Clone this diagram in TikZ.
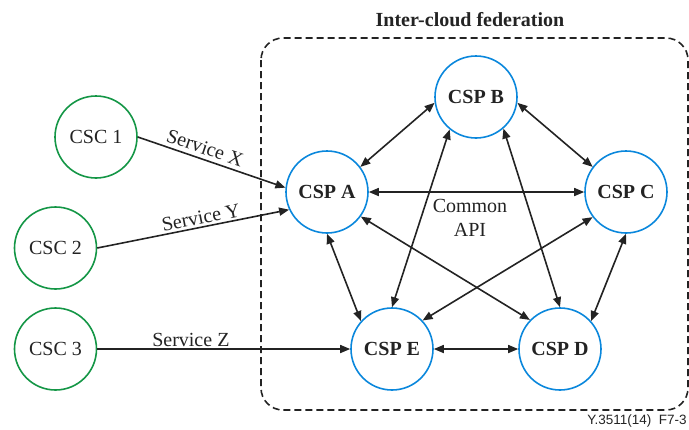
\documentclass[tikz,border=0pt]{standalone}
\usepackage{fontspec}
\setmainfont{Liberation Serif}
\newfontfamily\labelsans{Liberation Sans}
\usetikzlibrary{arrows.meta}
\definecolor{cscgreen}{RGB}{20,150,70}
\definecolor{cspblue}{RGB}{10,135,220}
\definecolor{ink}{RGB}{35,35,35}
\begin{document}
\begin{tikzpicture}[x=1pt,y=-1pt,
  csc/.style={circle,draw=cscgreen,line width=1.6pt,minimum size=82pt,inner sep=0pt,text=ink,font=\fontsize{20}{24}\selectfont},
  csp/.style={circle,draw=cspblue,line width=1.6pt,minimum size=82pt,inner sep=0pt,text=ink,font=\fontsize{20}{24}\selectfont\bfseries},
  link/.style={draw=ink,line width=1.6pt,{Triangle[length=10pt,width=8pt]}-{Triangle[length=10pt,width=8pt]}},
  svc/.style={draw=ink,line width=1.6pt,-{Triangle[length=10pt,width=8pt]}},
  lbl/.style={text=ink,font=\fontsize{20}{24}\selectfont,inner sep=2pt}
]
\useasboundingbox (0,0) rectangle (689,429);
% federation frame
\draw[ink,line width=1.6pt,dash pattern=on 7pt off 4pt,rounded corners=22pt] (261,38) rectangle (688,410);
\node[font=\fontsize{20}{24}\selectfont\bfseries,text=ink] (title) at (470,20) {Inter-cloud federation};
% nodes
\node[csc] (c1) at (96,137) {CSC 1};
\node[csc] (c2) at (55.5,248) {CSC 2};
\node[csc] (c3) at (55.5,349) {CSC 3};
\node[csp] (A) at (327,192) {CSP A};
\node[csp] (B) at (476,97) {CSP B};
\node[csp] (C) at (626,192) {CSP C};
\node[csp] (E) at (392,349) {CSP E};
\node[csp] (D) at (560,349) {CSP D};
\node[lbl,align=center] (api) at (470,218) {Common\\API};
% service arrows
\draw[svc] (c1.east) -- node[lbl,pos=0.43,above=2pt,sloped] {Service X} (A.174);
\draw[svc] (c2.east) -- node[lbl,pos=0.55,above,sloped] {Service Y} (A.205);
\draw[svc] (c3.east) -- node[lbl,pos=0.37,above] {Service Z} (E.west);
% federation links
\draw[link] (A.37) -- (B.188);
\draw[link] (B.352) -- (C.143);
\draw[link] (A.east) -- (C.west);
\draw[link] (A.270) -- (E.138);
\draw[link] (C.270) -- (D.42);
\draw[link] (E.east) -- (D.west);
\draw[link] (B.231) -- (E.north);
\draw[link] (B.311) -- (D.north);
\draw[link] (A.324) -- (D.136);
\draw[link] (C.217) -- (E.43);
\node[font=\labelsans\fontsize{13.5}{16}\selectfont,text=ink] (ref) at (637,421) {Y.3511(14)\ \ F7-3};
\end{tikzpicture}
\end{document}
